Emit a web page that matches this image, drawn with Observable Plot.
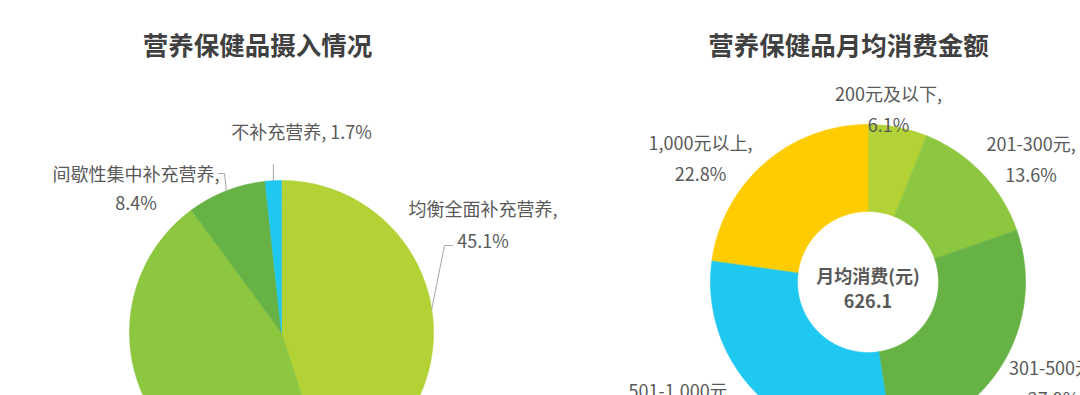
<!DOCTYPE html>
<html>
<head>
<meta charset="utf-8">
<script src="https://cdn.jsdelivr.net/npm/d3@7"></script>
<script src="https://cdn.jsdelivr.net/npm/@observablehq/plot@0.6"></script>
<style>
  html, body { margin: 0; padding: 0; background: #ffffff; overflow: hidden; }
  #chart svg { display: block; overflow: hidden; }
</style>
</head>
<body>
<div id="chart"></div>
<script>
// ---------------- DATA ----------------
const intakeTitle = "营养保健品摄入情况";
const intakeNames = ["均衡全面补充营养", "部分补充营养", "间歇性集中补充营养", "不补充营养"];
const intakeValues = [45.1, 44.8, 8.4, 1.7];

const spendTitle = "营养保健品月均消费金额";
const spendNames = ["200元及以下", "201-300元", "301-500元", "501-1,000元", "1,000元以上"];
const spendValues = [6.1, 13.6, 27.9, 29.6, 22.8];
const spendCenterLabel = "月均消费(元)";
const spendAverage = 626.1;

// ---------------- STYLE / LAYOUT ----------------
const intakeColors = ["#b2d235", "#8dc63f", "#66b245", "#1fc8f0"];
const spendColors = ["#b2d235", "#8dc63f", "#66b245", "#1fc8f0", "#ffcc00"];
const W = 1080, H = 395;
const labelColor = "#595959";
const titleColor = "#404040";
const leaderColor = "#a6a6a6";
const font = '"Noto Sans CJK SC", "Noto Sans", sans-serif';

const intakeGeom = {center: [281, 332], outer: 152, inner: 0};
const spendGeom = {center: [867.5, 281.5], outer: 157.5, inner: 70.5};

// label placement: offsets relative to the slice's outer-edge point at its mid-angle
const intakeLabelLayout = [
  {show: true, single: false, off: [51.3, -87.7], lh: 32 / 18, leader: [[0, 0], [12.8, -63.7], [20.8, -63.7]]},
  {show: false},
  {show: true, single: false, off: [-90.4, -4.3], lh: 29 / 18, leader: [[0, 0], [-1.9, -17.3], [-7.9, -17.3]]},
  {show: true, single: true, off: [28.1, -51.2], lh: 1, leader: [[0, 0], [0, -16]]}
];
const spendLabelLayout = [
  {off: [-9.5, -20.4]},
  {off: [49, -17]},
  {off: [50.7, 17]},
  {off: [-76.8, 10]},
  {off: [-64, -7.7]}
];
const titleLayout = [
  {text: intakeTitle, x: 257, y: 46},
  {text: spendTitle, x: 848, y: 46}
];

// ---------------- GEOMETRY FROM DATA ----------------
function polar(c, r, deg) {
  const t = deg * Math.PI / 180;
  return [c[0] + r * Math.sin(t), c[1] - r * Math.cos(t)];
}
function makeSlices(names, values) {
  const total = d3.sum(values);
  let acc = 0;
  return names.map((name, i) => {
    const a0 = acc / total * 360;
    acc += values[i];
    const a1 = acc / total * 360;
    return {name, value: values[i], a0, a1, mid: (a0 + a1) / 2, i};
  });
}
function slicePoints(slices, g) {
  const pts = [];
  for (const s of slices) {
    const n = Math.max(2, Math.ceil((s.a1 - s.a0) / 0.4) + 1);
    const outer = d3.range(n).map(k => s.a0 + (s.a1 - s.a0) * k / (n - 1));
    for (const a of outer) {
      const [x, y] = polar(g.center, g.outer, a);
      pts.push({name: s.name, x, y});
    }
    if (g.inner > 0) {
      for (const a of outer.slice().reverse()) {
        const [x, y] = polar(g.center, g.inner, a);
        pts.push({name: s.name, x, y});
      }
    } else {
      pts.push({name: s.name, x: g.center[0], y: g.center[1]});
    }
  }
  return pts;
}

const intakeSlices = makeSlices(intakeNames, intakeValues);
const spendSlices = makeSlices(spendNames, spendValues);
const intakePts = slicePoints(intakeSlices, intakeGeom);
const spendPts = slicePoints(spendSlices, spendGeom);

// intake labels + leaders
const intakeLabels = [];
const intakeLeaders = [];
intakeSlices.forEach((s, i) => {
  const L = intakeLabelLayout[i];
  if (!L.show) return;
  const e = polar(intakeGeom.center, intakeGeom.outer, s.mid);
  const pct = s.value.toFixed(1) + "%";
  intakeLabels.push({
    x: e[0] + L.off[0], y: e[1] + L.off[1], lh: L.lh,
    text: L.single ? `${s.name}, ${pct}` : `${s.name},\n${pct}`
  });
  L.leader.forEach(p => intakeLeaders.push({name: s.name, x: e[0] + p[0], y: e[1] + p[1]}));
});

// spend labels
const spendLabels = spendSlices.map((s, i) => {
  const e = polar(spendGeom.center, spendGeom.outer, s.mid);
  const L = spendLabelLayout[i];
  return {x: e[0] + L.off[0], y: e[1] + L.off[1], text: `${s.name},\n${s.value.toFixed(1)}%`};
});

const lh28 = intakeLabels.filter(d => d.lh < 1.7);
const lh32 = intakeLabels.filter(d => d.lh >= 1.7);

const chart = Plot.plot({
  width: W,
  height: H,
  margin: 0,
  x: {domain: [0, W], range: [0, W], axis: null},
  y: {domain: [0, H], range: [0, H], axis: null},
  color: {type: "ordinal", domain: [...intakeNames, ...spendNames], range: [...intakeColors, ...spendColors]},
  style: {fontFamily: font, background: "#ffffff", overflow: "hidden"},
  marks: [
    Plot.line(intakePts, {x: "x", y: "y", z: "name", fill: "name", stroke: "name", strokeWidth: 0.6, curve: "linear-closed", clip: true}),
    Plot.line(spendPts, {x: "x", y: "y", z: "name", fill: "name", stroke: "name", strokeWidth: 0.6, curve: "linear-closed", clip: true}),
    Plot.line(intakeLeaders, {x: "x", y: "y", z: "name", stroke: leaderColor, strokeWidth: 1, curve: "linear"}),
    Plot.text(lh32, {x: "x", y: "y", text: "text", fontSize: 18, fill: labelColor, textAnchor: "middle", lineAnchor: "middle", lineHeight: 32 / 18}),
    Plot.text(lh28, {x: "x", y: "y", text: "text", fontSize: 18, fill: labelColor, textAnchor: "middle", lineAnchor: "middle", lineHeight: 29 / 18}),
    Plot.text(spendLabels, {x: "x", y: "y", text: "text", fontSize: 18, fill: labelColor, textAnchor: "middle", lineAnchor: "middle", lineHeight: 31 / 18, clip: true}),
    Plot.text([{x: spendGeom.center[0], y: spendGeom.center[1] + 5, text: `${spendCenterLabel}\n${spendAverage.toFixed(1)}`}],
      {x: "x", y: "y", text: "text", fontSize: 18, fontWeight: "bold", fill: labelColor, textAnchor: "middle", lineAnchor: "middle", lineHeight: 25 / 18}),
    Plot.text(titleLayout, {x: "x", y: "y", text: "text", fontSize: 25.5, fontWeight: "bold", fill: titleColor, textAnchor: "middle", lineAnchor: "middle"})
  ]
});
document.getElementById("chart").appendChild(chart);
</script>
</body>
</html>
